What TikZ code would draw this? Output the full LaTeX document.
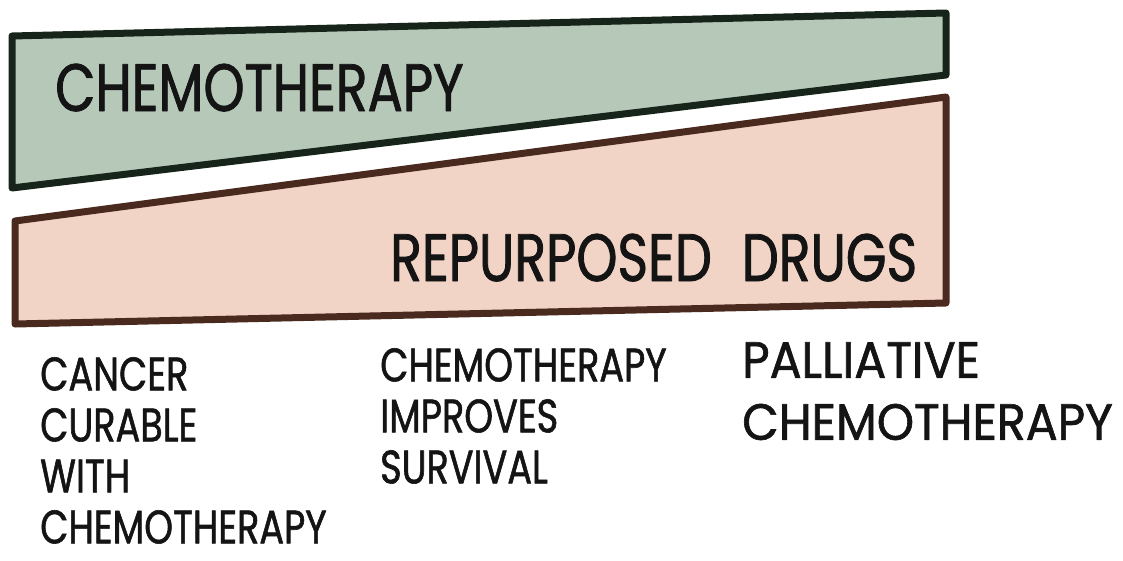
\documentclass[tikz,border=0pt]{standalone}
\usepackage{fontspec}
\newfontfamily\handfont[FakeStretch=0.78, FakeBold=1.2]{Poppins}
\newfontfamily\widehand[FakeStretch=0.93, FakeBold=1.2]{Poppins}
\definecolor{chemofill}{HTML}{B6C9B9}
\definecolor{chemoline}{HTML}{16241A}
\definecolor{drugfill}{HTML}{F2D4C6}
\definecolor{drugline}{HTML}{4A2A1E}
\definecolor{inkcol}{HTML}{141414}
\tikzset{
    bandtitle/.style={anchor=base west, inner sep=0pt, text=inkcol, font=\handfont\fontsize{67}{70}\selectfont},
    caption/.style={anchor=north west, inner sep=0pt, align=left, text=inkcol, font=\handfont\fontsize{47}{51}\selectfont},
}
\begin{document}
\begin{tikzpicture}[x=1pt, y=-1pt, line join=round]
    \useasboundingbox (0,0) rectangle (1123,560);

    % chemotherapy band, narrowing to the right
    \draw[chemoline, line width=7pt, fill=chemofill] (12,36) -- (946,13) -- (946,75) -- (12,188) -- cycle;
    \node[bandtitle] (chemo) at (55,111) {CHEMOTHERAPY};

    % repurposed drugs band, widening to the right
    \draw[drugline, line width=7pt, fill=drugfill] (15,221) -- (946,97) -- (946,303) -- (15,324) -- cycle;
    \node[bandtitle] (drugs) at (390,281) {REPURPOSED\hspace{30pt}DRUGS};

    % stages underneath
    \node[caption] (curable) at (40,357) {CANCER\\CURABLE\\WITH\\CHEMOTHERAPY};
    \node[caption] (survival) at (380,348) {CHEMOTHERAPY\\IMPROVES\\SURVIVAL};
    \node[caption, font=\widehand\fontsize{51}{62}\selectfont] (palliative) at (742,342) {PALLIATIVE\\CHEMOTHERAPY};
\end{tikzpicture}
\end{document}
